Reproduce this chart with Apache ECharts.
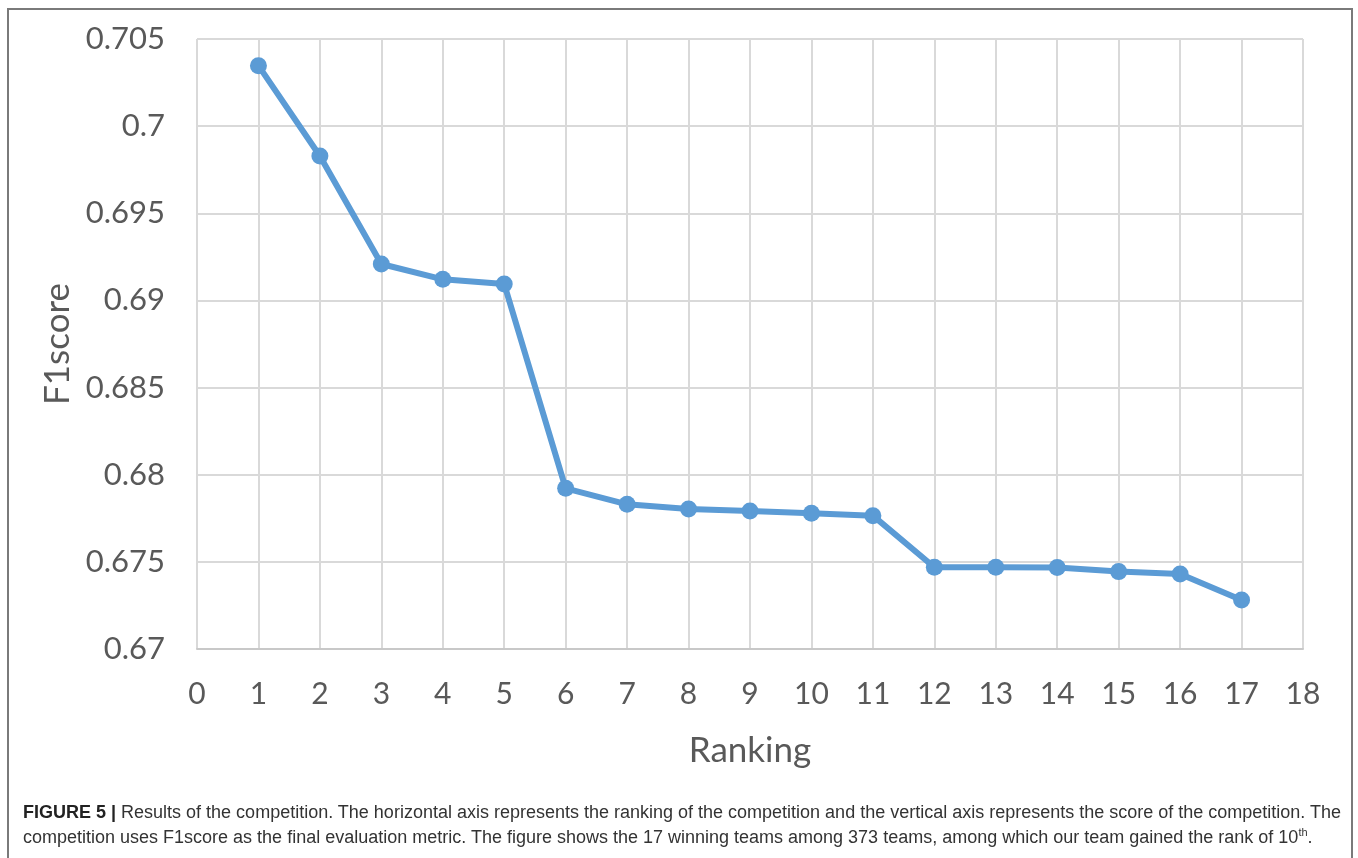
<!DOCTYPE html>
<html>
<head>
<meta charset="utf-8">
<script src="https://cdn.jsdelivr.net/npm/echarts@6/dist/echarts.min.js"></script>
<style>
  html, body { margin: 0; padding: 0; background: #fff; }
  #wrap { position: relative; width: 1358px; height: 858px; overflow: hidden; }
  #chart { position: absolute; left: 0; top: 0; width: 1358px; height: 858px; }
  #frame {
    position: absolute; left: 7px; top: 8px; width: 1346px; height: 870px;
    border: 2px solid #7a7a7a; box-sizing: border-box; pointer-events: none;
  }
  .cap {
    position: absolute; left: 23px; white-space: nowrap;
    font-family: "Liberation Sans", Arial, sans-serif; font-size: 18px; color: #333;
  }
  .cap b { color: #222; }
  .cap sup { font-size: 11px; line-height: 0; }
</style>
</head>
<body>
<div id="wrap">
  <div id="chart"></div>
  <div id="frame"></div>
  <div class="cap" id="cap1" style="top:802px"><b>FIGURE 5 |</b> Results of the competition. The horizontal axis represents the ranking of the competition and the vertical axis represents the score of the competition. The</div>
  <div class="cap" id="cap2" style="top:827px">competition uses F1score as the final evaluation metric. The figure shows the 17 winning teams among 373 teams, among which our team gained the rank of 10<sup>th</sup>.</div>
</div>
<script>
// Final ranking of the 17 winning teams and their F1 scores
const rankings = [1, 2, 3, 4, 5, 6, 7, 8, 9, 10, 11, 12, 13, 14, 15, 16, 17];
const f1Scores = [0.70347, 0.69829, 0.69209, 0.69121, 0.69094, 0.67922, 0.67830, 0.67803,
                  0.67792, 0.67779, 0.67765, 0.67469, 0.67469, 0.67468, 0.67444, 0.67430, 0.67281];

const axisFont = 'Lato, "Open Sans", sans-serif';
const textGray = '#595959';
const gridGray = '#d9d9d9';

const chart = echarts.init(document.getElementById('chart'), null, { renderer: 'canvas' });

chart.setOption({
  animation: false,
  backgroundColor: 'transparent',
  grid: { left: 197, right: 55, top: 39, bottom: 209, containLabel: false },
  xAxis: {
    type: 'value',
    min: 0, max: 18, interval: 1,
    name: 'Ranking',
    nameLocation: 'middle',
    nameGap: 84,
    nameTextStyle: { fontFamily: axisFont, fontSize: 35, color: textGray },
    axisLine: { show: true, lineStyle: { color: '#c8c8c8', width: 2 } },
    axisTick: { show: false },
    axisLabel: { fontFamily: axisFont, fontSize: 30, color: textGray, margin: 30 },
    splitLine: { show: true, lineStyle: { color: gridGray, width: 2 } }
  },
  yAxis: {
    type: 'value',
    min: 0.67, max: 0.705, interval: 0.005,
    name: 'F1score',
    nameLocation: 'middle',
    nameRotate: 90,
    nameGap: 122,
    nameTextStyle: { fontFamily: axisFont, fontSize: 35, color: textGray },
    axisLine: { show: false },
    axisTick: { show: false },
    axisLabel: {
      fontFamily: axisFont, fontSize: 31, color: textGray, margin: 32,
      formatter: v => String(parseFloat(v.toFixed(3)))
    },
    splitLine: { show: true, lineStyle: { color: gridGray, width: 2 } }
  },
  series: [{
    type: 'line',
    data: rankings.map((r, i) => [r, f1Scores[i]]),
    symbol: 'circle',
    symbolSize: 17,
    lineStyle: { color: '#5b9bd5', width: 6 },
    itemStyle: { color: '#5b9bd5' },
    z: 3
  }]
});
</script>
</body>
</html>
